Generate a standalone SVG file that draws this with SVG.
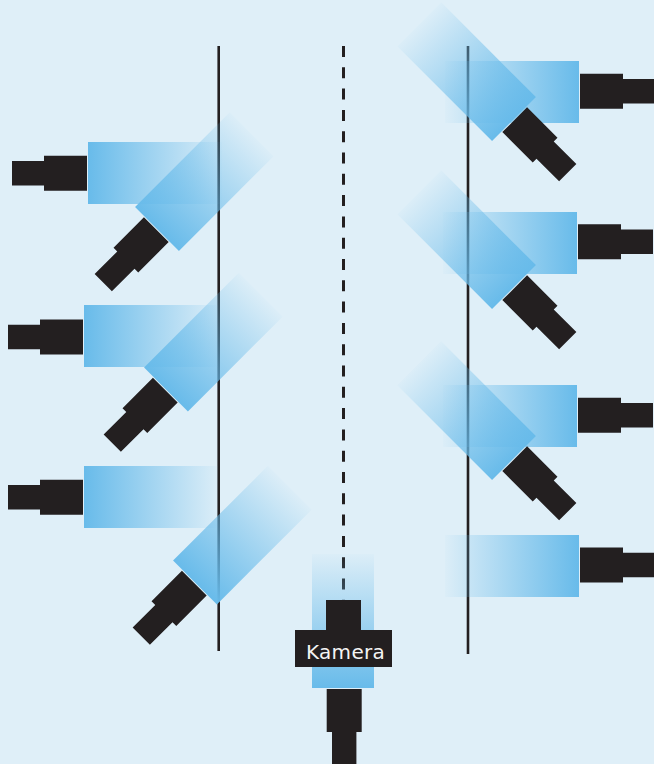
<svg xmlns="http://www.w3.org/2000/svg" xmlns:xlink="http://www.w3.org/1999/xlink" width="654" height="764" viewBox="0 0 654 764">
<style>
.ink{fill:#231f20}
.line{stroke:#231f20;stroke-width:2.6;fill:none}
.dash{stroke-width:3;stroke-dasharray:11 10.3}
.label{font-family:"DejaVu Sans",sans-serif;font-size:20px;letter-spacing:.3px;fill:#f4f4f4}
</style>
<defs>
<linearGradient id="fade" x1="-134" x2="0" y1="0" y2="0" gradientUnits="userSpaceOnUse">
<stop offset="0" stop-color="#68bbea" stop-opacity="0.03"/>
<stop offset="1" stop-color="#68bbea" stop-opacity="1"/>
</linearGradient>
<rect id="beam" x="-134" y="-31" width="134" height="62" fill="url(#fade)"/>
<path id="cam" class="ink" d="M1-17.5H44V-12.2H76V12.2H44V17.5H1Z"/>
<g id="unit">
<use xlink:href="#beam"/>
<use xlink:href="#cam"/>
</g>
</defs>
<rect id="background" width="654" height="764" fill="#dfeff8"/>
<g id="connectors">
<path class="line" d="M218.7 46V651"/>
<path class="line" d="M468 46V654"/>
<path class="line dash" d="M343.5 46V600"/>
</g>
<g id="left-row-1-straight"><use xlink:href="#beam" transform="translate(88 173) rotate(180)"/><use xlink:href="#cam" transform="translate(88 173.2) rotate(180)"/></g>
<g id="left-row-2-straight"><use xlink:href="#beam" transform="translate(84 336) rotate(180)"/><use xlink:href="#cam" transform="translate(84 337) rotate(180)"/></g>
<g id="left-row-3-straight"><use xlink:href="#beam" transform="translate(84 497) rotate(180)"/><use xlink:href="#cam" transform="translate(84 497.3) rotate(180)"/></g>
<g id="left-row-1-angled"><use xlink:href="#unit" transform="translate(157 229) rotate(135)"/></g>
<g id="left-row-2-angled"><use xlink:href="#unit" transform="translate(166 389.5) rotate(135)"/></g>
<g id="left-row-3-angled"><use xlink:href="#unit" transform="translate(195 582.5) rotate(135)"/></g>
<g id="right-row-1-straight"><use xlink:href="#beam" transform="translate(579 92)"/><use xlink:href="#cam" transform="translate(579 91.3)"/></g>
<g id="right-row-2-straight"><use xlink:href="#beam" transform="translate(577 243)"/><use xlink:href="#cam" transform="translate(577 241.8)"/></g>
<g id="right-row-3-straight"><use xlink:href="#beam" transform="translate(577 416)"/><use xlink:href="#cam" transform="translate(577 415.2)"/></g>
<g id="right-row-4-straight"><use xlink:href="#beam" transform="translate(579 566)"/><use xlink:href="#cam" transform="translate(579 565)"/></g>
<g id="right-row-1-angled"><use xlink:href="#unit" transform="translate(514 119) rotate(45)"/></g>
<g id="right-row-2-angled"><use xlink:href="#unit" transform="translate(514 287) rotate(45)"/></g>
<g id="right-row-3-angled"><use xlink:href="#unit" transform="translate(514 458) rotate(45)"/></g>
<g id="kamera">
<use xlink:href="#beam" transform="translate(343 688) rotate(90)"/>
<use xlink:href="#cam" transform="translate(344.2 688) rotate(90)"/>
<path class="ink" d="M326 600H361V630H392V667H295V630H326Z"/>
<text class="label" x="306" y="659">Kamera</text>
</g>
</svg>
